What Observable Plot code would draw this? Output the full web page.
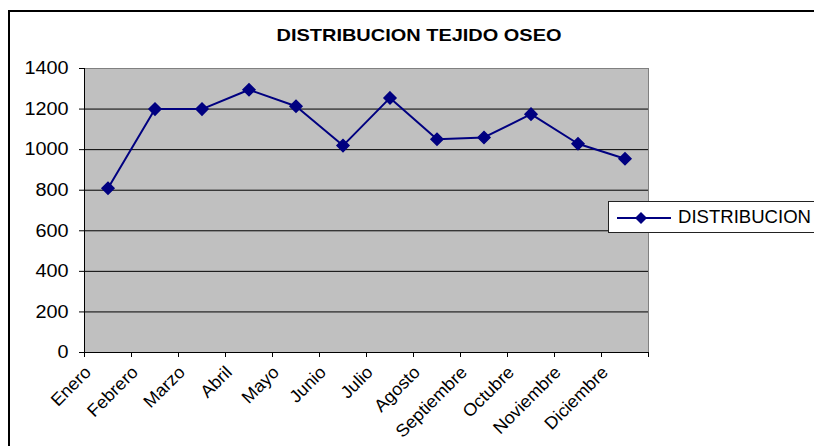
<!DOCTYPE html>
<html><head><meta charset="utf-8">
<script src="https://cdn.jsdelivr.net/npm/d3@7"></script>
<script src="https://cdn.jsdelivr.net/npm/@observablehq/plot@0.6"></script>
<style>
body{margin:0;background:#fff;}
#wrap{position:relative;width:814px;height:446px;overflow:hidden;font-family:"Liberation Sans",Arial,sans-serif;}
#frame{position:absolute;left:8px;top:10px;width:900px;height:500px;border-left:2px solid #000;border-top:2px solid #000;}
#chart{position:absolute;left:0;top:0;}
#title{position:absolute;left:0;top:0;}
#legend{position:absolute;left:608px;top:201px;width:230px;height:30px;background:#fff;border:1px solid #222;}
</style></head><body>
<div id="wrap"><div id="frame"></div><div id="chart"></div>
<svg id="title" width="814" height="60"></svg>
<div id="legend"><svg width="230" height="30"></svg></div>
</div>
<script>
const months = ["Enero","Febrero","Marzo","Abril","Mayo","Junio","Julio","Agosto","Septiembre","Octubre","Noviembre","Diciembre"];
const values = [810,1200,1200,1295,1214,1020,1255,1051,1060,1175,1029,955];
const yTicks = [0,200,400,600,800,1000,1200,1400];
const chartTitle = "DISTRIBUCION TEJIDO OSEO";
const seriesName = "DISTRIBUCION";

const data = months.map((m,i)=>({month:m, idx:i, value:values[i]}));
const pos = d => d.idx + 0.5;
const font = '"Liberation Sans", Arial, sans-serif';

const chart = Plot.plot({
  width:814, height:446,
  marginLeft:84, marginRight:166, marginTop:68, marginBottom:94,
  style:{fontFamily:font, fontSize:"18px", color:"#000", background:"transparent", overflow:"visible"},
  x:{type:"linear", domain:[0, months.length]},
  y:{domain:[0,1400]},
  marks:[
    Plot.frame({fill:"#c0c0c0"}),
    Plot.ruleY(yTicks.filter(t=>t>0 && t<1400), {stroke:"#000", strokeWidth:1}),
    Plot.frame({stroke:"#808080", strokeWidth:1}),
    Plot.axisY(yTicks, {tickSize:5, tickPadding:11, stroke:"#000", tickFormat:d=>String(d), label:null, ariaLabel:"y-axis"}),
    Plot.ruleY([0], {stroke:"#000"}),
    Plot.ruleX([0], {stroke:"#000"}),
    Plot.axisX(d3.range(months.length+1), {tickSize:5, tickFormat:()=>"", stroke:"#000", label:null}),
    Plot.axisX(months.map((m,i)=>i+0.5), {tickSize:0, tickRotate:-45, tickFormat:d=>months[Math.floor(d)], label:null, dx:-20, dy:5, fontSize:17.5}),
    Plot.line(data, {x:pos, y:"value", stroke:"#000080", strokeWidth:2}),
    Plot.dot(data, {x:pos, y:"value", symbol:"diamond2", r:5.4, fill:"#000080", stroke:"#000080"})
  ]
});
document.getElementById("chart").appendChild(chart);

// stretch tick labels horizontally like the original
chart.querySelectorAll("text").forEach(t=>{
  const L = t.getComputedTextLength();
  const isNum = /^\d+$/.test(t.textContent);
  const f = isNum ? 1.1 : 1.03;
  if (L>0){ t.setAttribute("textLength", (L*f).toFixed(1)); t.setAttribute("lengthAdjust","spacingAndGlyphs"); }
});

const ns = "http://www.w3.org/2000/svg";
const tsvg = document.getElementById("title");
const tt = document.createElementNS(ns,"text");
tt.setAttribute("x",419); tt.setAttribute("y",41);
tt.setAttribute("text-anchor","middle");
tt.setAttribute("font-family",font); tt.setAttribute("font-size","17"); tt.setAttribute("font-weight","bold");
tt.setAttribute("textLength","285"); tt.setAttribute("lengthAdjust","spacingAndGlyphs");
tt.textContent = chartTitle;
tsvg.appendChild(tt);

const lsvg = document.querySelector("#legend svg");
lsvg.innerHTML = `<line x1="8" x2="62" y1="16" y2="16" stroke="#000080" stroke-width="2"/>
<path d="M32,10L38,16L32,22L26,16Z" fill="#000080"/>`;
const lt = document.createElementNS(ns,"text");
lt.setAttribute("x",69); lt.setAttribute("y",21);
lt.setAttribute("font-family",font); lt.setAttribute("font-size","18.5");
lt.setAttribute("textLength","133"); lt.setAttribute("lengthAdjust","spacingAndGlyphs");
lt.textContent = seriesName;
lsvg.appendChild(lt);
</script>
</body></html>
